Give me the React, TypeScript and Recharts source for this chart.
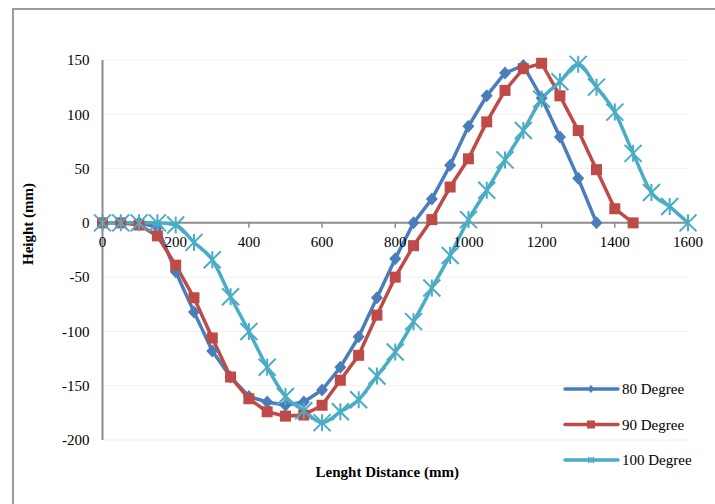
import React from 'react';
import { LineChart, Line, XAxis, YAxis, CartesianGrid, ReferenceLine, ReferenceDot } from 'recharts';

const distance80 = [0, 50, 100, 150, 200, 250, 300, 350, 400, 450, 500, 550, 600, 650, 700, 750, 800, 850, 900, 950, 1000, 1050, 1100, 1150, 1200, 1250, 1300, 1350];
const height80 = [0, 0, 0, -4, -45, -82, -118, -142, -160, -165, -168, -165, -154, -133, -105, -69, -33, 0, 22, 53, 89, 117, 138, 145, 115, 79, 41, 0];

const distance90 = [0, 50, 100, 150, 200, 250, 300, 350, 400, 450, 500, 550, 600, 650, 700, 750, 800, 850, 900, 950, 1000, 1050, 1100, 1150, 1200, 1250, 1300, 1350, 1400, 1450];
const height90 = [0, 0, -2, -12, -39, -69, -106, -142, -162, -174, -178, -177, -168, -145, -122, -85, -50, -21, 3, 33, 59, 93, 122, 142, 147, 117, 85, 49, 13, 0];

const distance100 = [0, 50, 100, 150, 200, 250, 300, 350, 400, 450, 500, 550, 600, 650, 700, 750, 800, 850, 900, 950, 1000, 1050, 1100, 1150, 1200, 1250, 1300, 1350, 1400, 1450, 1500, 1550, 1600];
const height100 = [0, 0, 0, 0, -2, -18, -34, -68, -100, -133, -160, -173, -184, -174, -163, -141, -119, -91, -60, -30, 3, 30, 58, 85, 114, 130, 146, 125, 102, 64, 28, 15, 0];

const xTicks = [0, 200, 400, 600, 800, 1000, 1200, 1400, 1600];
const yTicks = [-200, -150, -100, -50, 0, 50, 100, 150];

const seriesNames = ['80 Degree', '90 Degree', '100 Degree'];
const COLORS = ['#4A7EBB', '#BE4B48', '#4BACC6'];
const FONT = '"Liberation Serif", "Times New Roman", serif';

const toRows = (xs: number[], ys: number[]) => xs.map((x, i) => ({ x, y: ys[i] }));
const data80 = toRows(distance80, height80);
const data90 = toRows(distance90, height90);
const data100 = toRows(distance100, height100);

const Diamond = ({ cx, cy, s = 6.5, color }: any) => (
  <path d={`M${cx},${cy - s}L${cx + s - 0.5},${cy}L${cx},${cy + s}L${cx - s + 0.5},${cy}Z`} fill={color} />
);
const Square = ({ cx, cy, s = 5.5, color }: any) => (
  <rect x={cx - s} y={cy - s} width={2 * s} height={2 * s} fill={color} />
);
const Star = ({ cx, cy, s = 8.5, color, w = 2 }: any) => (
  <path
    d={`M${cx - s},${cy - s}L${cx + s},${cy + s}M${cx - s},${cy + s}L${cx + s},${cy - s}M${cx},${cy - s}L${cx},${cy + s}`}
    stroke={color}
    strokeWidth={w}
    fill="none"
  />
);

const dot80 = (p: any) => (p.cx == null ? <g key={p.index} /> : <Diamond key={p.index} cx={p.cx} cy={p.cy} color={COLORS[0]} />);
const dot90 = (p: any) => (p.cx == null ? <g key={p.index} /> : <Square key={p.index} cx={p.cx} cy={p.cy} color={COLORS[1]} />);
const dot100 = (p: any) => (p.cx == null ? <g key={p.index} /> : <Star key={p.index} cx={p.cx} cy={p.cy} color={COLORS[2]} />);

const XTickMark = (props: any) => {
  const { cx, cy, value } = props;
  return (
    <g>
      <line x1={cx} y1={cy} x2={cx} y2={cy + 5} stroke="#8c8c8c" strokeWidth={1.5} />
      <text x={cx} y={cy + 24} textAnchor="middle" fontFamily={FONT} fontSize={15} fill="#000">
        {value}
      </text>
    </g>
  );
};

const LegendBox = () => {
  const markers = [
    (cx: number, cy: number) => <Diamond cx={cx} cy={cy} s={4} color={COLORS[0]} />,
    (cx: number, cy: number) => <Square cx={cx} cy={cy} s={4} color={COLORS[1]} />,
    (cx: number, cy: number) => <Star cx={cx} cy={cy} s={3} w={1.2} color={COLORS[2]} />,
  ];
  return (
    <svg width={140} height={110} style={{ position: 'absolute', left: 560, top: 375 }}>
      {seriesNames.map((name, i) => {
        const cy = 14 + i * 35.5;
        return (
          <g key={name}>
            <line x1={5} y1={cy} x2={58} y2={cy} stroke={COLORS[i]} strokeWidth={3.5} strokeLinecap="round" />
            {markers[i](31, cy)}
            <text x={62} y={cy + 5} fontFamily={FONT} fontSize={15} fill="#000">
              {name}
            </text>
          </g>
        );
      })}
    </svg>
  );
};

export default function App() {
  return (
    <div style={{ position: 'absolute', left: 0, top: 0, width: 715, height: 504, overflow: 'hidden', background: '#fff' }}>
      <div
        style={{
          position: 'absolute',
          left: 12,
          top: 8,
          width: 760,
          height: 560,
          borderLeft: '2px solid #9a9a9a',
          borderTop: '2px solid #9a9a9a',
        }}
      />
      <div style={{ position: 'absolute', left: 0, top: 0 }}>
        <LineChart width={715} height={504} margin={{ top: 60, right: 27, bottom: 0, left: 0 }}>
          <CartesianGrid horizontal vertical={false} stroke="#f0f0f0" strokeWidth={1} />
          <XAxis
            type="number"
            dataKey="x"
            domain={[0, 1600]}
            ticks={xTicks}
            height={64}
            axisLine={false}
            tickLine={false}
            tick={false}
            label={{
              value: 'Lenght Distance (mm)',
              position: 'center',
              dx: -8,
              style: { fontFamily: FONT, fontSize: 15, fontWeight: 'bold', fill: '#000' },
            }}
          />
          <YAxis
            type="number"
            domain={[-200, 150]}
            ticks={yTicks}
            width={102.5}
            axisLine={{ stroke: '#8c8c8c', strokeWidth: 2 }}
            tickLine={false}
            tickSize={0}
            tickMargin={13}
            tick={{ fontFamily: FONT, fontSize: 15, fill: '#000' }}
            label={{
              content: (p: any) => {
                const vb = p.viewBox;
                const x = vb.x + 28;
                const y = vb.y + vb.height / 2 - 26;
                return (
                  <text
                    x={x}
                    y={y}
                    transform={`rotate(-90 ${x} ${y})`}
                    textAnchor="middle"
                    dominantBaseline="central"
                    fontFamily={FONT}
                    fontSize={15}
                    fontWeight="bold"
                    fill="#000"
                  >
                    Height (mm)
                  </text>
                );
              },
            }}
          />
          <ReferenceLine y={0} stroke="#8c8c8c" strokeWidth={2} />
          {xTicks.map((v) => (
            <ReferenceDot key={v} x={v} y={0} r={0} shape={(p: any) => <XTickMark {...p} value={v} />} />
          ))}
          <Line
            data={data80}
            dataKey="y"
            name={seriesNames[0]}
            stroke={COLORS[0]}
            strokeWidth={3.5}
            dot={dot80}
            activeDot={false}
            isAnimationActive={false}
          />
          <Line
            data={data90}
            dataKey="y"
            name={seriesNames[1]}
            stroke={COLORS[1]}
            strokeWidth={3.5}
            dot={dot90}
            activeDot={false}
            isAnimationActive={false}
          />
          <Line
            data={data100}
            dataKey="y"
            name={seriesNames[2]}
            type="monotone"
            stroke={COLORS[2]}
            strokeWidth={3.5}
            dot={dot100}
            activeDot={false}
            isAnimationActive={false}
          />
        </LineChart>
      </div>
      <LegendBox />
    </div>
  );
}
